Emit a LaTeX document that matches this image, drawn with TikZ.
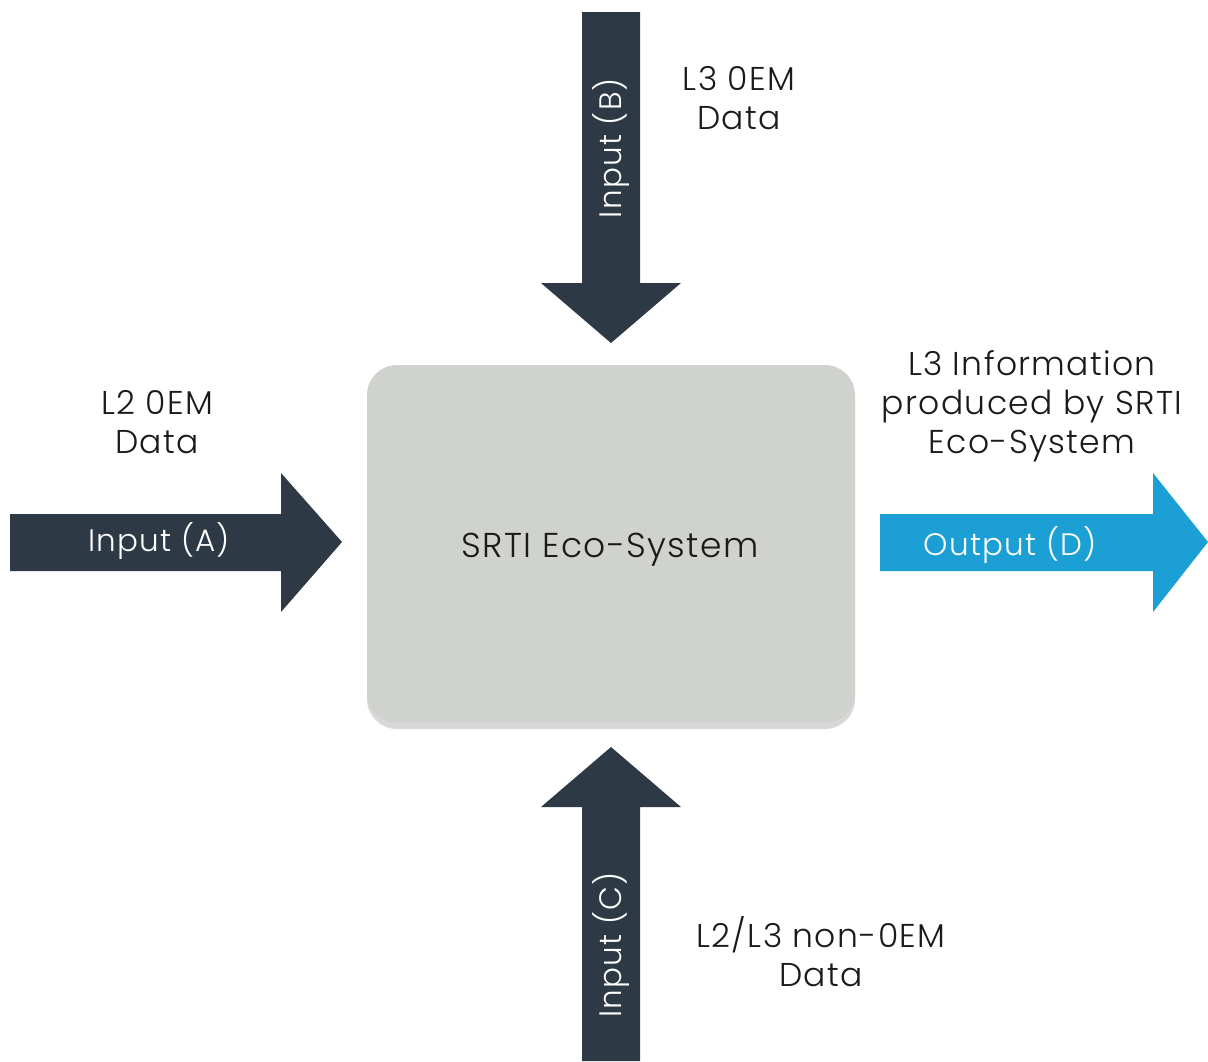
\documentclass[tikz,border=0pt]{standalone}
\usepackage{fontspec}
\setmainfont{Poppins Light}[LetterSpace=4]
\usetikzlibrary{shadows}
\definecolor{arrowdark}{HTML}{2D3A46}
\definecolor{arrowblue}{HTML}{1B9FD4}
\definecolor{boxgray}{HTML}{D0D2CD}
\definecolor{txt}{HTML}{1A1A1A}
\begin{document}
\begin{tikzpicture}[x=1pt,y=-1pt,
  lbl/.style={align=center,text=txt,font=\fontsize{33}{38.8}\selectfont,inner sep=0pt},
  arrtxt/.style={text=white,font=\fontsize{31}{36}\selectfont,inner sep=0pt},
  darrow/.style={fill=arrowdark,draw=none},
  barrow/.style={fill=arrowblue,draw=none}]
\useasboundingbox (0,0) rectangle (1208,1061);
% central box
\node[fill=boxgray,rounded corners=30pt,minimum width=488pt,minimum height=358pt,
  drop shadow={shadow xshift=0pt,shadow yshift=-6pt,fill=black!30,opacity=0.5}] (eco) at (611,544) {};
\node[text=txt,font=\fontsize{34.5}{36}\selectfont,inner sep=0pt] (ecotxt) at (610,550) {SRTI Eco-System};
% arrow B (top)
\path[darrow] (582,12) -- (640,12) -- (640,283) -- (681,283) -- (611,343) coordinate (tipB) -- (541,283) -- (582,283) -- cycle;
\node[arrtxt,rotate=90] (inB) at (611,148) {Input (B)};
% arrow A (left)
\path[darrow] (10,514) -- (281,514) -- (281,473) -- (342,542) coordinate (tipA) -- (281,612) -- (281,571) -- (10,571) -- cycle;
\node[arrtxt] (inA) at (159,541) {Input (A)};
% arrow D (right)
\path[barrow] (880,514) -- (1153,514) -- (1153,473) -- (1208,542) coordinate (tipD) -- (1153,612) -- (1153,571) -- (880,571) -- cycle;
\node[arrtxt] (outD) at (1010,545) {Output (D)};
% arrow C (bottom)
\path[darrow] (582,1061) -- (582,807) -- (541,807) -- (611,747) coordinate (tipC) -- (681,807) -- (640,807) -- (640,1061) -- cycle;
\node[arrtxt,rotate=90] (inC) at (611,945) {Input (C)};
% labels
\node[lbl] (lB) at (739,98) {L3 0EM\\Data};
\node[lbl] (lA) at (157,422) {L2 0EM\\Data};
\node[lbl] (lD) at (1032,406) {L3 Information\\produced by SRTI\\Eco-System};
\node[lbl] (lC) at (821,952) {L2/L3 non-0EM\\Data};
\end{tikzpicture}
\end{document}
